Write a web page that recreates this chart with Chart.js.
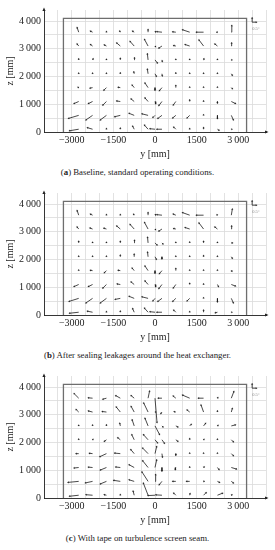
<!DOCTYPE html>
<html><head><meta charset="utf-8">
<script src="https://cdn.jsdelivr.net/npm/chart.js@4/dist/chart.umd.min.js"></script>
<style>
html,body{margin:0;padding:0;background:#fff;width:275px;height:550px;overflow:hidden}
.panel{position:absolute;left:0;width:275px;height:160px}
.cap{position:absolute;left:0;width:275px;text-align:center;font-family:"Liberation Serif",serif;font-size:8.8px;line-height:10px;color:#222;white-space:nowrap}
</style></head><body>
<div class="panel" style="top:0"><canvas id="c0" width="275" height="160"></canvas></div>
<div class="cap" style="top:167px">(<b>a</b>) Baseline, standard operating conditions.</div>
<div class="panel" style="top:183px"><canvas id="c1" width="275" height="160"></canvas></div>
<div class="cap" style="top:350px">(<b>b</b>) After sealing leakages around the heat exchanger.</div>
<div class="panel" style="top:366px"><canvas id="c2" width="275" height="160"></canvas></div>
<div class="cap" style="top:533px">(<b>c</b>) With tape on turbulence screen seam.</div>
<script>
// ---- grid of measurement points ----
const Y_POS = [-2750,-2250,-1750,-1250,-750,-250,0,250,750,1250,1750,2250,2750];
const Z_POS = [3600,3100,2600,2100,1600,1100,600,100];
// test-section outline [mm]
const OUTLINE_Y = [-3300,-3300,3300,3300];
const OUTLINE_Z = [0,4100,4100,0];
// axes / tick labels
const X_RANGE = [-4000,4000];
const Z_RANGE = [0,4400];
const GRID_STEP = 500;
const Z_GRID_MAX = 4000;
const X_TICKS = [-3000,-1500,0,1500,3000];
const X_TICK_LABELS = ['\u22123000','\u22121500','0','1500','3\u2009000'];
const Y_TICKS = [0,1000,2000,3000,4000];
const Y_TICK_LABELS = ['0','1\u2009000','2\u2009000','3\u2009000','4\u2009000'];
const LEGEND_DEG = 0.5;
const LEGEND_LABEL = '0.5\u00b0';

// ---- flow angles [deg]: horizontal (yaw) and vertical (pitch); rows = Z_POS, cols = Y_POS ----
const yawA = [
 [-0.18,-0.24,0,-0.06,-0.18,0,0.06,-0.60,-0.36,-0.84,-0.84,-0.06,0.06],
 [-0.18,-0.24,-0.24,-0.42,-0.48,-0.42,0.06,-0.36,-0.24,-0.54,-0.54,-0.30,0.04],
 [0,0.06,0,0,0.04,-0.08,0.28,0.04,0,0,0.04,0,0.06],
 [0,0,0,0,-0.04,-0.08,0.16,0.04,0,0,0,0,0.12],
 [-0.06,-0.30,-0.30,-0.24,-0.24,-0.36,0,-0.30,0,0,0,0,0.12],
 [-0.54,-0.48,-0.42,-0.42,-0.36,-0.36,0.08,-0.36,-0.30,0,0,0,0.48],
 [-1.20,-0.78,-0.72,-0.66,-0.60,-0.72,-0.24,-0.48,-0.36,-0.30,0,0,0.24],
 [-1.08,-0.60,0,0,-0.18,-0.42,-0.60,-0.60,-0.24,0,0,0.18,0.06]
];
const pitchA = [
 [0.54,0.12,0.06,0.12,0.12,0.30,0.06,0.06,0.04,0.28,0,0,0.78],
 [0.24,0.18,0.12,0.36,0.54,0.78,-0.06,-0.24,0.06,0.18,0.72,0.24,0.36],
 [0.12,0.12,0.06,0.18,0.24,0.72,-0.36,-0.18,0.06,0.06,0.12,0.06,0],
 [0.06,0.06,0.06,0.10,0.22,0.54,-0.30,-0.24,0.10,0.06,0.06,0.06,-0.18],
 [0.04,-0.06,-0.30,0.04,0.30,0.54,-0.30,-0.36,0.24,0.06,0.06,0.06,-0.12],
 [-0.24,-0.24,-0.42,0.06,0.30,0.42,-0.24,-0.48,-0.42,0.18,0.06,-0.18,-0.24],
 [-0.36,-0.54,-0.54,-0.16,0.24,0.18,-0.24,-0.36,-0.30,-0.30,0.06,-0.36,-0.54],
 [-0.18,0.18,0.06,0.12,0.36,0.48,0.06,0,0.24,0.06,0.18,-0.12,0]
];
const yawB = [
 [-0.18,-0.24,0,0,-0.06,0,0.06,-0.60,-0.30,-0.84,-0.84,-0.04,0.12],
 [-0.18,-0.30,-0.30,-0.42,-0.48,-0.42,0.06,-0.36,-0.24,-0.54,-0.54,-0.30,0.04],
 [0,0,0,0,0.04,-0.06,0.24,0.12,0,0,0,0,0.12],
 [0,0,0,0,0,-0.06,0.16,0,0,0,0,0,0.12],
 [0,-0.24,-0.24,-0.24,-0.24,-0.36,0,-0.30,0,0,0,0,0.06],
 [-0.54,-0.48,-0.42,-0.36,-0.36,-0.36,0.08,-0.36,-0.30,0,0,0.12,0.48],
 [-1.14,-0.78,-0.72,-0.60,-0.60,-0.72,-0.24,-0.48,-0.36,-0.30,0,0,0.24],
 [-1.08,-0.60,0,0,-0.18,-0.42,-0.60,-0.60,-0.24,0,0,-0.24,0.06]
];
const pitchB = [
 [0.54,0.12,0.06,0.06,0.10,0.30,0.06,0.06,0.12,0.30,0,0.04,0.72],
 [0.24,0.12,0.10,0.36,0.54,0.78,-0.06,-0.24,0.06,0.18,0.72,0.24,0.36],
 [0.18,0.06,0.06,0.18,0.30,0.66,-0.24,-0.12,0.06,0.10,0.18,0.06,0],
 [0.06,0.06,0.06,0.18,0.30,0.54,-0.30,-0.24,0.06,0.06,0.12,0.06,-0.18],
 [0.06,0.04,-0.24,0.04,0.30,0.54,-0.30,-0.36,0.24,0.06,0.06,0.06,-0.06],
 [-0.24,-0.24,-0.42,0.06,0.30,0.42,-0.24,-0.48,-0.42,0.12,0.06,-0.24,-0.18],
 [-0.36,-0.54,-0.54,-0.12,0.24,0.18,-0.30,-0.36,-0.36,-0.30,0.06,-0.42,-0.54],
 [-0.12,0.12,0.06,0.12,0.42,0.48,0.06,0,0.24,0.06,0.24,-0.06,0]
];
const yawC = [
 [-0.54,-0.48,-0.42,-0.54,-0.36,0.18,0.24,-0.42,-0.30,-0.84,-0.60,0.04,0.30],
 [-0.30,-0.48,-0.48,-0.48,-0.36,-0.52,0.06,-0.12,-0.18,-0.30,-0.30,0,0.12],
 [0,0,0,-0.06,-0.24,-0.36,0.54,0.12,0.24,0.18,0.24,0.06,0.48],
 [0,0.04,-0.24,-0.30,-0.28,-0.54,0.30,0.30,0.24,0,0.04,0,0.24],
 [-0.30,-0.36,-0.78,-0.66,-0.40,-0.64,0.20,0.06,0,0,0,0,0.24],
 [-0.54,-0.48,-0.72,-0.54,-0.60,-0.64,0.20,0,-0.06,0,0.06,0.18,0.60],
 [-1.26,-0.84,-0.72,-0.78,-0.60,-0.72,0.08,-0.32,-0.36,-0.36,0.06,0.24,0.24],
 [-1.08,-0.78,-0.24,0,-0.12,-0.56,-0.84,-0.72,-0.24,0.04,0.30,0.60,0.06]
];
const pitchC = [
 [0.54,0.04,-0.12,0.30,0.30,0.84,-2.90,0,0.24,0.36,0,0.06,0.78],
 [0.30,0.12,0.06,0.60,0.66,1.08,0,-0.18,0.04,0.24,0.84,0.12,0.42],
 [0.06,0.10,0.12,0.30,0.72,0.90,-1.02,-0.12,-0.12,0.18,0.30,0.06,0.12],
 [0.06,0.04,-0.18,0.24,0.60,0.60,-0.36,-0.42,-0.18,0.12,0.04,0.06,-0.24],
 [0,0.04,-0.36,0.06,0.48,0.66,0.84,-0.42,-0.18,0.06,0.06,0.06,-0.24],
 [-0.06,0.04,-0.30,0.06,0.32,0.80,0.90,-0.42,-0.24,0.06,0.06,-0.24,-0.18],
 [-0.12,-0.18,-0.30,0.12,0.18,1.12,0.80,-0.40,0,0,0,-0.12,-0.18],
 [-0.12,0.06,0.06,0.06,0.48,1.44,-0.04,0.04,0.24,0.18,0.30,0.24,0.04]
];

const MM_PER_DEG = 300;           // drawing scale of the vectors
const LEGEND_AT = {y:3500, z:3960};
const FONT = '"Liberation Serif", "DejaVu Serif", serif';
const INK = '#1c1c1c';

function buildVectors(yaw, pitch){
  const seg = [], tips = [], rot = [];
  Z_POS.forEach((z,i) => Y_POS.forEach((y,j) => {
    const tx = y + yaw[i][j]*MM_PER_DEG, tz = z + pitch[i][j]*MM_PER_DEG;
    seg.push({x:y,y:z},{x:tx,y:tz},{x:tx,y:null});
    tips.push({x:tx,y:tz});
    rot.push(Math.atan2(yaw[i][j], pitch[i][j])*180/Math.PI);
  }));
  // scale legend arrows
  const L = LEGEND_DEG*MM_PER_DEG;
  seg.push({x:LEGEND_AT.y,y:LEGEND_AT.z},{x:LEGEND_AT.y+L,y:LEGEND_AT.z},{x:LEGEND_AT.y+L,y:null});
  seg.push({x:LEGEND_AT.y,y:LEGEND_AT.z},{x:LEGEND_AT.y,y:LEGEND_AT.z+L},{x:LEGEND_AT.y,y:null});
  tips.push({x:LEGEND_AT.y+L,y:LEGEND_AT.z},{x:LEGEND_AT.y,y:LEGEND_AT.z+L});
  rot.push(90,0);
  return {seg,tips,rot};
}

function gridTicks(lo, hi){
  const t = [];
  for (let v = lo; v <= hi; v += GRID_STEP) t.push({value:v});
  return t;
}

const decor = {
  id:'decor',
  afterDraw(chart){
    const {ctx, chartArea:a, scales} = chart;
    ctx.save();
    ctx.fillStyle = '#222'; ctx.strokeStyle = '#222'; ctx.lineWidth = 0.9;
    // x-axis arrow
    ctx.beginPath(); ctx.moveTo(a.right, a.bottom); ctx.lineTo(a.right+1, a.bottom); ctx.stroke();
    ctx.beginPath(); ctx.moveTo(a.right+2.5, a.bottom); ctx.lineTo(a.right-1, a.bottom-1.6); ctx.lineTo(a.right-1, a.bottom+1.6); ctx.closePath(); ctx.fill();
    // y-axis arrow
    ctx.beginPath(); ctx.moveTo(a.left, a.top-2.5); ctx.lineTo(a.left-1.6, a.top+1); ctx.lineTo(a.left+1.6, a.top+1); ctx.closePath(); ctx.fill();
    // legend label
    ctx.fillStyle = '#888';
    ctx.font = '4.5px ' + FONT;
    ctx.textAlign = 'center'; ctx.textBaseline = 'middle';
    const L = LEGEND_DEG*MM_PER_DEG;
    ctx.fillText(LEGEND_LABEL, scales.x.getPixelForValue(LEGEND_AT.y+L*0.9), scales.y.getPixelForValue(LEGEND_AT.z-L*1.5));
    ctx.restore();
  }
};

function makeChart(id, yaw, pitch){
  const v = buildVectors(yaw, pitch);
  new Chart(document.getElementById(id), {
    type:'scatter',
    data:{datasets:[
      {data: OUTLINE_Y.map((y,i)=>({x:y,y:OUTLINE_Z[i]})), showLine:true, borderColor:'#6e6e6e', borderWidth:1.3, pointRadius:0, fill:false},
      {data: v.seg, showLine:true, spanGaps:false, borderColor:INK, borderWidth:0.8, pointRadius:0, fill:false},
      {data: v.tips, showLine:false, pointStyle:'triangle', pointRadius:0.95, rotation:v.rot,
       backgroundColor:INK, borderColor:INK, borderWidth:0.2}
    ]},
    options:{
      responsive:false, animation:false, devicePixelRatio:1,
      layout:{padding:{top:10,right:9,left:0,bottom:0}},
      plugins:{legend:{display:false}, tooltip:{enabled:false}},
      scales:{
        x:{type:'linear', min:X_RANGE[0], max:X_RANGE[1],
          afterBuildTicks(s){ s.ticks = gridTicks(X_RANGE[0], X_RANGE[1]); },
          afterFit(s){ s.height = 28; },
          ticks:{autoSkip:false, maxRotation:0, minRotation:0, padding:2, color:'#222',
            font:{family:FONT, size:10},
            callback:(val)=>{ const k = X_TICKS.indexOf(val); return k>=0 ? X_TICK_LABELS[k] : ''; }},
          grid:{color:'#dadada', lineWidth:0.8, drawTicks:false},
          border:{color:'#222', width:0.9},
          title:{display:true, text:'y [mm]', color:'#222', font:{family:FONT, size:10}, padding:{top:0,bottom:0}}
        },
        y:{type:'linear', min:Z_RANGE[0], max:Z_RANGE[1],
          afterBuildTicks(s){ s.ticks = gridTicks(Z_RANGE[0], Z_GRID_MAX); },
          afterFit(s){ s.width = 44; },
          ticks:{autoSkip:false, padding:3, color:'#222',
            font:{family:FONT, size:10},
            callback:(val)=>{ const k = Y_TICKS.indexOf(val); return k>=0 ? Y_TICK_LABELS[k] : ''; }},
          grid:{color:'#dadada', lineWidth:0.8, drawTicks:false},
          border:{color:'#222', width:0.9},
          title:{display:true, text:'z [mm]', color:'#222', font:{family:FONT, size:10}, padding:{top:4,bottom:0}}
        }
      }
    },
    plugins:[decor]
  });
}
makeChart('c0', yawA, pitchA);
makeChart('c1', yawB, pitchB);
makeChart('c2', yawC, pitchC);
</script>
</body></html>
